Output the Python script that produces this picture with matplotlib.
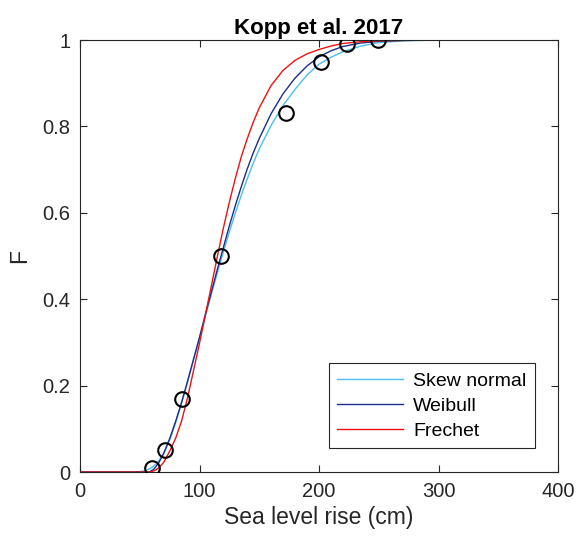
import matplotlib
matplotlib.use("Agg")
import matplotlib.pyplot as plt

plt.rcParams['font.family'] = ['Liberation Sans', 'DejaVu Sans']

# data points (sea level rise quantiles)
obs_x = [60, 71, 85, 118, 172, 202, 223, 249]
obs_F = [0.01, 0.05, 0.17, 0.50, 0.83, 0.95, 0.99, 1.00]

# fitted CDFs
skew_x = [0, 40, 50, 55, 60, 65, 70, 75, 80, 85, 90, 95, 100, 105, 110, 115, 120, 125, 130,
          135, 140, 145, 150, 160, 170, 180, 190, 200, 210, 220, 235, 250, 270, 300, 400]
skew_F = [0, 0, 0.001, 0.003, 0.010, 0.022, 0.042, 0.074, 0.114, 0.160, 0.209, 0.260, 0.310,
          0.361, 0.412, 0.462, 0.510, 0.556, 0.600, 0.641, 0.679, 0.715, 0.748, 0.803, 0.849,
          0.886, 0.919, 0.944, 0.960, 0.973, 0.986, 0.994, 0.998, 1.0, 1.0]

weib_x = [0, 50, 58, 62, 66, 70, 75, 80, 85, 90, 95, 100, 105, 110, 115, 120, 125, 130, 135,
          140, 145, 150, 160, 170, 180, 190, 200, 210, 220, 235, 250, 270, 300, 400]
weib_F = [0, 0, 0, 0.007, 0.022, 0.043, 0.077, 0.117, 0.161, 0.210, 0.261, 0.312, 0.366,
          0.418, 0.470, 0.520, 0.570, 0.617, 0.661, 0.702, 0.739, 0.772, 0.830, 0.876, 0.912,
          0.940, 0.961, 0.975, 0.985, 0.993, 0.997, 0.999, 1.0, 1.0]

frec_x = [0, 50, 58, 60, 63, 66, 70, 75, 80, 85, 90, 95, 100, 105, 110, 115, 120, 125, 130,
          135, 140, 145, 150, 160, 170, 180, 190, 200, 210, 220, 235, 250, 270, 300, 400]
frec_F = [0, 0, 0, 0.001, 0.004, 0.010, 0.022, 0.048, 0.078, 0.118, 0.172, 0.235, 0.298,
          0.365, 0.432, 0.500, 0.565, 0.625, 0.680, 0.730, 0.772, 0.810, 0.843, 0.895, 0.930,
          0.953, 0.968, 0.978, 0.986, 0.992, 0.996, 0.998, 0.999, 1.0, 1.0]

xticks = [0, 100, 200, 300, 400]
yticks = [0, 0.2, 0.4, 0.6, 0.8, 1]
ytick_labels = ['0', '0.2', '0.4', '0.6', '0.8', '1']

fig = plt.figure(figsize=(5.76, 5.45), dpi=100)
ax = fig.add_axes([0.1389, 0.1339, 0.8299, 0.7927])

ax.plot(skew_x, skew_F, color='#4DBEEE', lw=1.0, label='Skew normal')
ax.plot(weib_x, weib_F, color='#1A2F8C', lw=1.0, label='Weibull')
ax.plot(frec_x, frec_F, color='#EE1111', lw=1.0, label='Frechet')
ax.plot(obs_x, obs_F, 'o', mfc='none', mec='black', ms=10.5, mew=1.5, zorder=5)

ax.set_xlim(0, 400)
ax.set_ylim(0, 1)
ax.set_xticks(xticks)
ax.set_yticks(yticks)
ax.set_yticklabels(ytick_labels)

grey = '#262626'
for s in ax.spines.values():
    s.set_color(grey)
    s.set_linewidth(0.8)
ax.tick_params(direction='in', top=True, right=True, length=5, width=0.8,
               colors=grey, labelsize=14.5, pad=7)

ax.set_xlabel('Sea level rise (cm)', fontsize=16.5, color=grey, labelpad=4)
ax.set_ylabel('F', fontsize=16.5, color=grey, labelpad=8)
ax.set_title('Kopp et al. 2017', fontsize=16, fontweight='bold', pad=4)

leg = ax.legend(loc='lower right', bbox_to_anchor=(0.952, 0.055), borderaxespad=0,
                fontsize=14, handlelength=3.4, fancybox=False, framealpha=1,
                edgecolor=grey, borderpad=0.45, labelspacing=0.38, handletextpad=0.5)
leg.get_frame().set_linewidth(0.8)

fig.savefig('out.png', dpi=100)
